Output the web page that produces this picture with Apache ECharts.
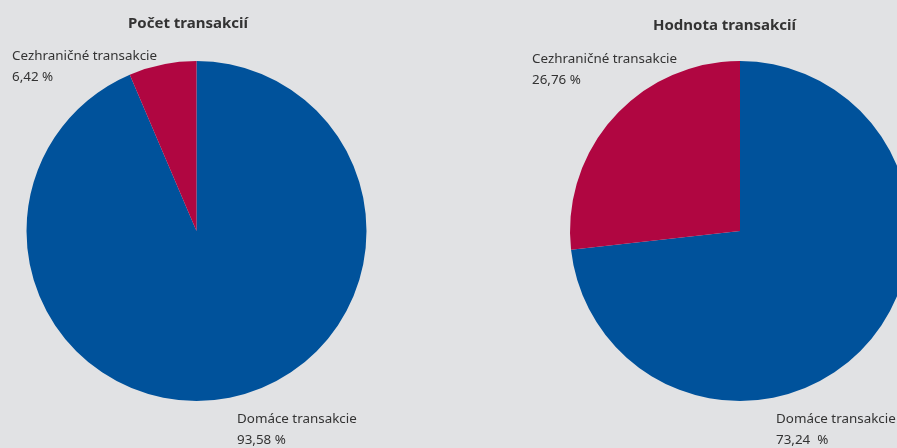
<!DOCTYPE html>
<html><head><meta charset="utf-8">
<script src="https://cdn.jsdelivr.net/npm/echarts@6/dist/echarts.min.js"></script>
<style>html,body{margin:0;padding:0;background:#e1e2e4}#c{width:897px;height:448px}</style>
</head><body><div id="c"></div>
<script>
var categories = ['Domáce transakcie', 'Cezhraničné transakcie'];
var titles = ['Počet transakcií', 'Hodnota transakcií'];
var countValues = [93.58, 6.42];
var valueValues = [73.24, 26.76];
var colors = ['#00529b', '#b00641'];

function fmt(v){ return v.toFixed(2).replace('.', ','); }
var labelPos = [
  [[237, 409], [12, 46]],
  [[776, 409], [532, 49]]
];
function makeSeries(idx, values, cx){
  return {
    type: 'pie', center: [cx, 231], radius: 170, startAngle: 90, clockwise: true,
    silent: true, animation: false, avoidLabelOverlap: false,
    data: categories.map(function(c, i){ return {name: c, value: values[i], itemStyle: {color: colors[i]}}; }),
    label: {
      show: true, position: 'outside', color: '#333', overflow: 'none', width: 200,
      fontFamily: 'Noto Sans', fontSize: 13.4, lineHeight: 21,
      formatter: function(p){ return p.name + '\n' + fmt(p.value) + (idx === 1 && p.dataIndex === 0 ? '  %' : ' %'); }
    },
    labelLine: {show: false},
    labelLayout: function(p){
      var pos = labelPos[idx][p.dataIndex];
      return {x: pos[0], y: pos[1], align: 'left', verticalAlign: 'top', hideOverlap: false, moveOverlap: null};
    }
  };
}
var chart = echarts.init(document.getElementById('c'), null, {renderer: 'canvas'});
chart.setOption({
  backgroundColor: '#e1e2e4',
  title: [
    {text: titles[0], left: 183, top: 11, textAlign: 'center', textStyle: {fontFamily: 'Noto Sans', fontSize: 15, fontWeight: 'bold', color: '#333'}},
    {text: titles[1], left: 719.5, top: 13, textAlign: 'center', textStyle: {fontFamily: 'Noto Sans', fontSize: 15, fontWeight: 'bold', color: '#333'}}
  ],
  series: [makeSeries(0, countValues, 196.5), makeSeries(1, valueValues, 740)]
});
</script></body></html>
